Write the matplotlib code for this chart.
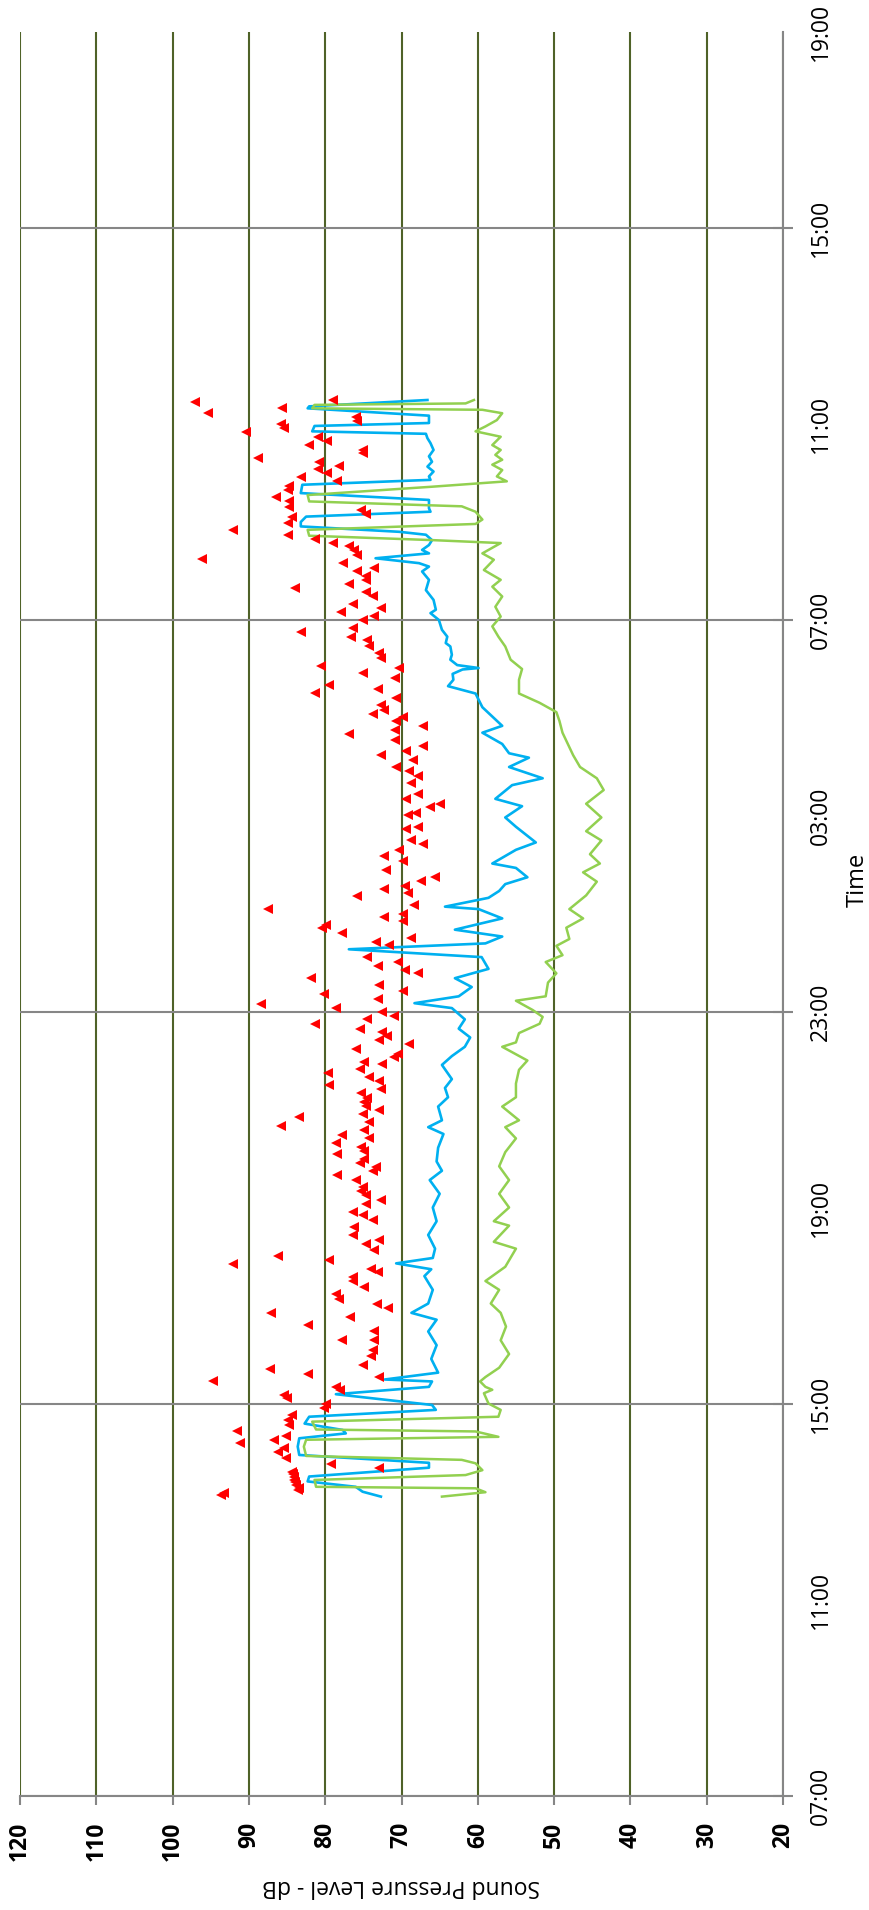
import matplotlib
matplotlib.use("Agg")
import matplotlib.pyplot as plt

plt.rcParams['font.family'] = ['Open Sans', 'DejaVu Sans']

# ---------------- data (time = hours after 07:00 on day 1) ----------------
time_ticks = [0, 8, 16, 24, 32]
time_labels = ['07:00', '15:00', '23:00', '07:00', '15:00']
time_minor_ticks = [4, 12, 20, 28, 36]
time_minor_labels = ['11:00', '19:00', '03:00', '11:00', '19:00']
db_ticks = [120, 110, 100, 90, 80, 70, 60, 50, 40, 30, 20]

blue_t = [6.11, 6.21, 6.31, 6.42, 6.52, 6.70, 6.80, 6.96, 7.13, 7.30, 7.40, 7.47, 7.60, 7.74,
          7.88, 7.98, 8.20, 8.35, 8.46, 8.50, 8.64, 8.92, 9.20, 9.48, 9.72, 9.86, 10.05, 10.33,
          10.61, 10.75, 10.87, 10.98, 11.17, 11.45, 11.73, 12.01, 12.29, 12.57, 12.76, 12.95,
          13.23, 13.51, 13.65, 13.79, 14.07, 14.26, 14.45, 14.63, 14.92, 15.10, 15.29, 15.48,
          15.66, 15.85, 16.08, 16.18, 16.32, 16.51, 16.69, 16.88, 17.12, 17.28, 17.40, 17.54,
          17.68, 17.91, 18.10, 18.15, 18.33, 18.47, 18.61, 18.75, 18.94, 19.03, 19.31, 19.46,
          19.78, 19.97, 20.20, 20.35, 20.63, 20.77, 21.00, 21.19, 21.28, 21.47, 21.70, 21.84,
          22.03, 22.22, 22.50, 22.65, 22.78, 22.90, 22.99, 23.02, 23.08, 23.19, 23.29, 23.46,
          23.53, 23.66, 23.80, 24.00, 24.14, 24.21, 24.41, 24.61, 24.82, 24.99, 25.09, 25.16,
          25.26, 25.36, 25.43, 25.53, 25.63, 25.74, 25.80, 25.91, 26.00, 26.11, 26.21, 26.28,
          26.45, 26.59, 26.76, 26.86, 26.93, 27.03, 27.13, 27.23, 27.34, 27.47, 27.61, 27.71,
          27.80, 27.85, 27.96, 28.02, 28.17, 28.32, 28.36, 28.49]
blue_db = [72.7, 75.1, 76.0, 82.3, 82.1, 66.4, 66.4, 83.4, 83.6, 83.4, 77.3, 77.7, 82.7, 82.1,
           65.5, 66.0, 78.6, 66.4, 66.0, 72.2, 65.2, 66.1, 65.4, 66.5, 65.4, 68.7, 66.5, 65.9,
           67.0, 66.1, 70.7, 65.9, 65.6, 66.5, 65.4, 65.9, 65.0, 66.3, 64.7, 65.4,
           65.2, 64.5, 66.5, 64.7, 65.2, 63.9, 64.3, 63.4, 64.7, 63.4, 61.7, 61.0,
           62.5, 61.7, 63.4, 68.3, 62.5, 60.8, 63.0, 58.6, 59.5, 76.9, 59.0, 56.8,
           63.0, 56.8, 59.9, 64.3, 58.6, 57.2, 56.4, 53.5, 55.0, 58.1, 55.0, 52.4,
           55.0, 56.4, 54.2, 57.7, 55.5, 51.5, 55.9, 53.3, 55.9, 56.8, 59.4, 56.8,
           58.1, 59.4, 60.3, 63.9, 63.2, 63.3, 62.0, 59.9, 62.7, 63.6, 63.4, 63.6,
           64.2, 64.0, 64.7, 65.1, 66.2, 65.5, 65.8, 66.8, 66.4, 67.3, 66.4, 67.7,
           73.4, 66.4, 67.3, 66.4, 66.0, 66.8, 70.3, 83.2, 83.2, 82.5, 66.2, 66.4,
           66.4, 83.2, 83.0, 66.2, 66.4, 65.8, 66.6, 66.0, 66.4, 65.8, 66.2, 66.6,
           66.8, 81.7, 81.4, 66.4, 66.4, 82.3, 82.1, 66.6]

green_t = [6.11, 6.20, 6.28, 6.31, 6.45, 6.55, 6.65, 6.79, 6.86, 6.94, 7.13, 7.27, 7.33, 7.44,
           7.48, 7.64, 7.74, 7.88, 8.01, 8.22, 8.29, 8.35, 8.46, 8.55, 8.74, 9.02, 9.30, 9.58,
           9.86, 10.05, 10.33, 10.51, 10.80, 11.17, 11.31, 11.64, 11.73, 12.01, 12.29, 12.57,
           12.85, 13.14, 13.42, 13.65, 13.79, 14.07, 14.26, 14.54, 14.82, 15.01, 15.29, 15.38,
           15.57, 15.76, 15.90, 16.04, 16.23, 16.32, 16.60, 16.79, 17.02, 17.16, 17.35, 17.49,
           17.72, 17.91, 18.10, 18.38, 18.66, 18.85, 19.03, 19.22, 19.50, 19.69, 19.97, 20.25,
           20.53, 20.77, 21.00, 21.24, 21.47, 21.70, 21.94, 22.12, 22.31, 22.50, 22.78, 23.00,
           23.19, 23.46, 23.66, 23.87, 24.07, 24.27, 24.48, 24.68, 24.82, 25.02, 25.23, 25.36,
           25.57, 25.63, 25.72, 25.84, 25.96, 26.05, 26.21, 26.32, 26.42, 26.55, 26.72, 26.83,
           26.93, 27.06, 27.17, 27.27, 27.37, 27.47, 27.57, 27.74, 27.85, 27.95, 28.08, 28.22,
           28.29, 28.32, 28.39, 28.42, 28.49]
green_db = [64.7, 59.0, 60.3, 81.2, 81.4, 61.6, 59.4, 60.3, 62.1, 82.5, 82.8, 82.5, 57.3, 60.3,
            81.2, 81.7, 57.3, 57.0, 58.6, 59.2, 58.1, 59.0, 59.7, 59.0, 57.2, 55.9, 57.0, 56.3,
            57.0, 58.3, 57.2, 59.0, 56.4, 55.0, 57.9, 55.9, 57.9, 55.9, 57.2, 55.9,
            57.2, 56.4, 55.0, 56.4, 54.6, 56.8, 55.0, 55.0, 54.6, 53.5, 56.8, 55.0,
            54.6, 51.9, 51.5, 52.8, 55.0, 51.1, 50.8, 49.7, 51.1, 48.9, 49.7, 48.0,
            48.4, 46.2, 48.0, 45.8, 44.4, 46.2, 44.0, 45.3, 43.8, 45.8, 43.8, 45.8,
            43.5, 44.4, 46.6, 47.5, 48.2, 48.9, 49.3, 49.7, 51.9, 54.6, 54.6, 54.2,
            55.7, 56.4, 57.3, 58.1, 57.0, 57.7, 56.8, 58.1, 57.0, 59.2, 57.9, 59.4,
            57.0, 65.9, 82.1, 82.3, 60.3, 59.4, 60.3, 62.1, 82.1, 82.3, 66.0, 56.2,
            57.5, 56.8, 58.1, 56.8, 57.7, 57.0, 58.1, 57.0, 60.3, 59.0, 57.5, 56.8,
            59.4, 81.7, 81.4, 61.6, 60.5]

red_t = [6.14, 6.18, 6.24, 6.28, 6.35, 6.40, 6.45, 6.52, 6.57, 6.62, 6.69, 6.78, 6.89, 7.03,
         7.10, 7.20, 7.27, 7.35, 7.44, 7.57, 7.67, 7.78, 7.91, 8.01, 8.12, 8.18, 8.29, 8.35,
         8.46, 8.55, 8.62, 8.71, 8.80, 8.97, 9.11, 9.30, 9.30, 9.48, 9.62, 9.77, 9.86, 9.95,
         10.05, 10.15, 10.25, 10.39, 10.51, 10.59, 10.70, 10.76, 10.85, 10.93, 11.02, 11.14,
         11.26, 11.34, 11.44, 11.61, 11.75, 11.85, 11.92, 12.09, 12.17, 12.26, 12.35, 12.43,
         12.57, 12.67, 12.76, 12.84, 12.91, 13.01, 13.10, 13.17, 13.25, 13.33, 13.43, 13.50,
         13.59, 13.67, 13.76, 13.85, 13.91, 14.01, 14.08, 14.17, 14.25, 14.34, 14.42, 14.51,
         14.59, 14.68, 14.76, 14.83, 14.93, 14.98, 15.08, 15.15, 15.25, 15.34, 15.42, 15.51,
         15.59, 15.66, 15.75, 15.85, 15.91, 16.00, 16.09, 16.17, 16.27, 16.37, 16.43, 16.55,
         16.70, 16.79, 16.86, 16.93, 17.02, 17.12, 17.37, 17.42, 17.52, 17.61, 17.72, 17.77,
         17.86, 17.93, 18.00, 18.10, 18.19, 18.36, 18.43, 18.52, 18.58, 18.68, 18.75, 18.89,
         19.08, 19.18, 19.31, 19.43, 19.52, 19.74, 19.78, 20.02, 20.06, 20.18, 20.25, 20.35,
         20.44, 20.67, 20.81, 20.91, 21.00, 21.14, 21.25, 21.33, 21.42, 21.56, 21.68, 21.75,
         21.84, 21.94, 22.03, 22.08, 22.17, 22.27, 22.41, 22.50, 22.59, 22.67, 22.81, 22.91,
         23.02, 23.07, 23.22, 23.32, 23.46, 23.59, 23.66, 23.75, 23.83, 23.99, 24.08, 24.16,
         24.24, 24.33, 24.48, 24.58, 24.65, 24.74, 24.82, 24.89, 24.99, 25.06, 25.16, 25.24,
         25.33, 25.42, 25.50, 25.58, 25.65, 25.74, 25.83, 25.97, 26.10, 26.16, 26.25, 26.31,
         26.42, 26.51, 26.66, 26.74, 26.83, 26.91, 27.00, 27.08, 27.15, 27.23, 27.31, 27.40,
         27.47, 27.57, 27.66, 27.73, 27.83, 27.91, 27.99, 28.07, 28.15, 28.23, 28.32, 28.45,
         28.49]
red_db = [93.6, 93.2, 83.6, 83.4, 83.8, 84.0, 84.1, 84.1, 84.2, 84.3, 73.0, 79.3, 85.1, 86.2,
          85.4, 91.2, 86.7, 85.1, 91.5, 84.7, 84.9, 84.3, 80.1, 79.9, 85.0, 85.4, 78.0, 78.6,
          94.7, 72.9, 82.2, 87.3, 75.1, 74.0, 73.8, 73.6, 77.8, 73.6, 82.2, 76.7, 87.1, 71.8,
          73.2, 78.2, 78.6, 74.9, 76.4, 76.4, 73.1, 74.0, 92.1, 79.5, 86.2, 73.6,
          74.7, 72.9, 76.4, 76.2, 73.8, 75.1, 76.3, 74.7, 72.7, 74.7, 75.3, 75.1,
          75.9, 78.5, 73.8, 73.4, 75.5, 74.9, 78.5, 74.9, 75.3, 78.6, 74.2, 77.8,
          74.9, 85.8, 74.2, 83.4, 75.1, 73.0, 74.7, 74.9, 74.5, 75.3, 72.7, 79.5,
          72.9, 74.2, 79.6, 75.5, 72.5, 74.9, 71.0, 70.5, 76.0, 69.0, 72.9, 71.9,
          72.5, 75.5, 81.3, 74.5, 71.0, 72.5, 78.6, 88.4, 73.1, 80.1, 69.8, 72.9,
          81.8, 67.8, 69.6, 73.1, 70.5, 74.5, 71.6, 73.4, 68.7, 77.8, 80.4, 79.9,
          69.8, 72.3, 69.8, 87.5, 68.3, 75.8, 69.2, 72.3, 69.6, 67.4, 65.6, 72.0,
          69.8, 72.3, 70.3, 67.2, 68.7, 69.4, 67.8, 69.2, 68.1, 66.3, 65.0, 69.4,
          67.8, 68.7, 67.8, 69.0, 70.7, 68.5, 72.7, 69.4, 67.2, 70.9, 76.9, 70.9,
          67.2, 70.7, 69.8, 73.8, 72.3, 72.7, 70.7, 81.3, 73.1, 79.5, 70.8, 75.1,
          70.3, 80.6, 72.7, 72.9, 74.2, 74.5, 76.6, 83.2, 76.4, 75.1, 73.6, 77.9,
          72.7, 76.4, 73.8, 74.7, 84.0, 76.9, 74.7, 74.7, 75.8, 73.6, 77.7, 96.2,
          75.8, 76.2, 76.9, 79.0, 81.4, 84.9, 92.1, 84.9, 84.3, 74.7, 75.3, 84.7,
          84.7, 86.4, 84.9, 84.7, 78.4, 83.2, 79.7, 81.0, 78.2, 80.8, 88.8, 75.1,
          75.1, 82.1, 79.7, 81.0, 90.4, 85.4, 85.8, 75.8, 76.0, 95.4, 85.7, 97.1,
          79.0]

# ---------------- figure ----------------
W, H = 869, 1910
fig = plt.figure(figsize=(W / 100, H / 100), dpi=100)
ax = fig.add_axes([20 / W, 114 / H, 763 / W, 1764 / H])

GRID_GREEN = '#4F6228'
AXIS_GREY = '#868686'

ax.set_xlim(120, 20)
ax.set_ylim(0, 36)
ax.set_axisbelow(True)

# series (dB on horizontal axis, time running upwards)
ax.plot(blue_db, blue_t, color='#00B0F0', lw=1.9, zorder=3, solid_joinstyle='round')
ax.plot(green_db, green_t, color='#92D050', lw=1.8, zorder=4, solid_joinstyle='round')
ax.plot(red_db, red_t, linestyle='none', marker='<', color='#FF0000',
        markersize=7, markeredgewidth=0, zorder=5)

# dB axis (bottom)
ax.set_xticks(db_ticks)
ax.set_xticklabels([str(v) for v in db_ticks], fontsize=16.5, fontweight='bold')
ax.tick_params(axis='x', which='major', direction='out', length=6.5, width=1.5,
               color=AXIS_GREY, pad=12, labelrotation=90)
ax.xaxis.grid(True, color=GRID_GREEN, lw=1.5)

# time axis (right)
ax.yaxis.tick_right()
ax.set_yticks(time_ticks)
ax.set_yticklabels(time_labels)
ax.set_yticks(time_minor_ticks, minor=True)
ax.set_yticklabels(time_minor_labels, minor=True)
ax.tick_params(axis='y', which='major', direction='inout', length=14, width=1.5,
               color=AXIS_GREY, pad=11.5, labelsize=16.5, labelrotation=90)
ax.tick_params(axis='y', which='minor', length=0, pad=18.5, labelsize=16.5,
               labelrotation=90)
ax.yaxis.grid(True, which='major', color=AXIS_GREY, lw=1.5)
for lbl in ax.yaxis.get_ticklabels(which='both'):
    lbl.set_va('center')

for s in ['left', 'top']:
    ax.spines[s].set_visible(False)
for s in ['bottom', 'right']:
    ax.spines[s].set_color(AXIS_GREY)
    ax.spines[s].set_linewidth(1.5)
    ax.spines[s].set_zorder(2.5)

# axis titles (chart is rotated: dB title upside down, time title vertical)
fig.text(401 / W, 1 - 1886 / H, 'Sound Pressure Level - dB', rotation=180,
         ha='center', va='center', fontsize=16.5)
fig.text(858 / W, 1 - 880 / H, 'Time', rotation=90, ha='center', va='center',
         fontsize=17)

fig.savefig('out.png', dpi=100)
